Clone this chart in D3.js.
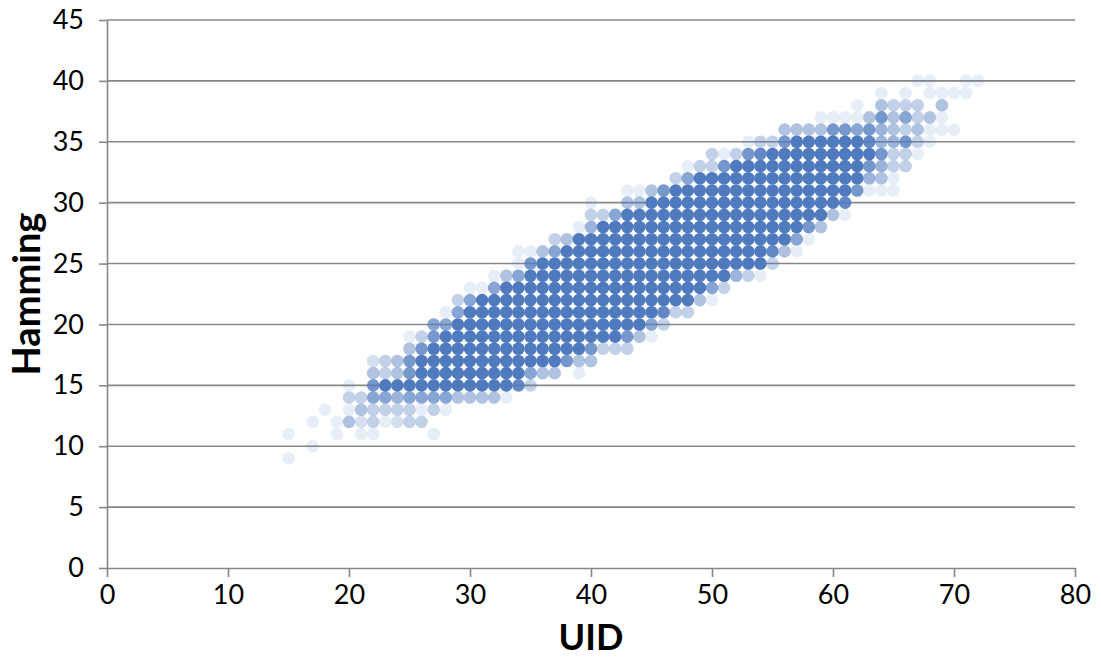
<!DOCTYPE html>
<html>
<head>
<meta charset="utf-8">
<script src="https://cdn.jsdelivr.net/npm/d3@7"></script>
<style>
    body { margin: 0; background: #fff; }
    text { font-family: Lato, "Open Sans", sans-serif; }
</style>
</head>
<body>
<script>
// one entry per UID column: first Hamming value, then density level (0-9) going up
let uid = [15, 17, 18, 19, 20, 21, 22, 23, 24, 25, 26, 27, 28, 29, 30, 31, 32, 33, 34, 35,
    36, 37, 38, 39, 40, 41, 42, 43, 44, 45, 46, 47, 48, 49, 50, 51, 52, 53, 54, 55,
    56, 57, 58, 59, 60, 61, 62, 63, 64, 65, 66, 67, 68, 69, 70, 71, 72];
let hammingStart = [9, 10, 13, 11, 12, 11, 11, 12, 12, 12, 12, 11, 13, 14, 14, 14, 14, 14, 15, 15,
    16, 16, 17, 16, 17, 18, 18, 18, 19, 19, 20, 21, 21, 22, 22, 23, 24, 24, 24, 25,
    26, 26, 27, 28, 29, 29, 31, 31, 31, 31, 33, 34, 35, 36, 36, 39, 40];
let density = ["101", "101", "1", "11", "4131", "1243", "1336742", "136933", "235944", "33697741",
    "31699973", "1036999976", "169999961", "499999963", "4999999961", "4999999991", "49999999961",
    "19999999994", "899999999611", "369999999971", "49999999994", "499999999963", "79999999994",
    "1499999999991", "47999999999531", "399999999993", "399999999996", "37999999999941",
    "4999999999941", "1699999999994", "389999999997", "399999999993", "3999999999961",
    "499999999993", "1699999999933", "399999999971", "59999999993", "399999999971",
    "199999999983", "38999999993", "49999999974", "16999999994", "1799999994", "4999999941",
    "499999971", "189999971", "79999611", "1579874", "145755741", "11335443", "3373631",
    "1343301", "114011", "1141", "1001", "11", "1"];

let xTicks = [0, 10, 20, 30, 40, 50, 60, 70, 80];
let yTicks = [0, 5, 10, 15, 20, 25, 30, 35, 40, 45];

let size = {width: 1101, height: 661};
let margin = {top: 20, right: 26, bottom: 93, left: 107};

let points = uid.flatMap((u, i) =>
    density[i].split("").map((c, j) => ({uid: u, hamming: hammingStart[i] + j, level: +c}))
        .filter(d => d.level > 0));

let svg = d3.select("body").append("svg")
    .attr("width", size.width)
    .attr("height", size.height);

let x = d3.scaleLinear().domain([0, 80]).range([margin.left, size.width - margin.right]);
let y = d3.scaleLinear().domain([0, 45]).range([size.height - margin.bottom, margin.top]);
let opacity = d3.scaleLinear().domain([1, 9]).range([0.13, 1]);

// gridlines
svg.append("g")
    .selectAll("line")
    .data(yTicks.filter(d => d > 0))
    .join("line")
    .attr("x1", x(0))
    .attr("x2", x(80))
    .attr("y1", d => y(d))
    .attr("y2", d => y(d))
    .attr("stroke", "#878787")
    .attr("stroke-width", 1.6);

svg.append("g")
    .selectAll("circle")
    .data(points)
    .join("circle")
    .attr("cx", d => x(d.uid))
    .attr("cy", d => y(d.hamming))
    .attr("r", 6.3)
    .attr("fill", "#4f7bbe")
    .attr("fill-opacity", d => opacity(d.level));

let xAxis = svg.append("g")
    .attr("transform", `translate(0,${y(0)})`)
    .call(d3.axisBottom(x).tickValues(xTicks).tickSize(9).tickSizeOuter(0).tickPadding(8));

let yAxis = svg.append("g")
    .attr("transform", `translate(${x(0)},0)`)
    .call(d3.axisLeft(y).tickValues(yTicks).tickSize(8).tickSizeOuter(0).tickPadding(15));

for (let g of [xAxis, yAxis]) {
    g.selectAll(".domain, line").attr("stroke", "#878787").attr("stroke-width", 1.6);
    g.selectAll("text")
        .attr("fill", "#000")
        .style("font-size", "27px")
        .style("font-family", "Lato, 'Open Sans', sans-serif");
}

svg.append("text")
    .attr("x", (x(0) + x(80)) / 2)
    .attr("y", 650)
    .attr("text-anchor", "middle")
    .attr("font-weight", "bold")
    .attr("font-size", 36)
    .text("UID");

svg.append("text")
    .attr("transform", `translate(40,${(y(0) + y(45)) / 2}) rotate(-90)`)
    .attr("text-anchor", "middle")
    .attr("font-weight", "bold")
    .attr("font-size", 38)
    .text("Hamming");
</script>
</body>
</html>
